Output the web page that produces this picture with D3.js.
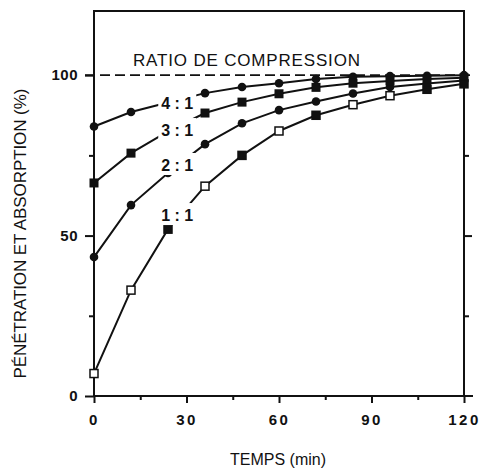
<!DOCTYPE html>
<html>
<head>
<meta charset="utf-8">
<script src="https://cdn.jsdelivr.net/npm/d3@7"></script>
<style>
  body { margin: 0; background: #fff; }
  text { font-family: "Liberation Sans", Arial, sans-serif; fill: #111; }
</style>
</head>
<body>
<svg id="chart"></svg>
<script>
// time points (min)
const times = [0, 12, 24, 36, 48, 60, 72, 84, 96, 108, 120];

// penetration + absorption (%) per compression ratio
const ratio41 = [84, 88.5, 91.5, 94.4, 96.3, 97.5, 98.8, 99.5, 99.7, 99.8, 100];
const ratio31 = [66.4, 75.7, 82.5, 88.2, 91.6, 94.2, 96.2, 97.5, 98.2, 98.8, 99.2];
const ratio21 = [43.3, 59.5, 69.5, 78.5, 85, 89.1, 91.8, 94.3, 96.3, 97.4, 98.3];
const ratio11 = [7, 33, 52, 65.4, 75, 82.6, 87.5, 90.8, 93.6, 95.6, 97.3];
const open11 = [true, true, false, true, false, true, false, true, true, false, false];

const seriesNames = ["4 : 1", "3 : 1", "2 : 1", "1 : 1"];
// label anchor points (time, %)
const labelAt = [[27, 91.3], [27, 82.9], [27, 72], [27, 56.4]];

const xMajor = [0, 30, 60, 90, 120];
const xMinor = [15, 45, 75, 105];
const yMajor = [0, 50, 100];
const yMinor = [25, 75];

var size = { width: 480, height: 469 };
var svg = d3.select("#chart")
    .attr("width", size.width)
    .attr("height", size.height);

var x = d3.scaleLinear().domain([0, 120]).range([94, 464]);
var y = d3.scaleLinear().domain([0, 120]).range([396, 11]);

// frame
svg.append("rect")
    .attr("x", x(0)).attr("y", y(120))
    .attr("width", x(120) - x(0)).attr("height", y(0) - y(120))
    .attr("fill", "none").attr("stroke", "#111").attr("stroke-width", 2);

// bottom axis
var xAxis = svg.append("g")
    .attr("transform", `translate(0,${y(0)})`)
    .call(d3.axisBottom(x).tickValues(xMajor).tickSize(7).tickFormat(d3.format("d")).tickPadding(11));
xAxis.select(".domain").remove();
xAxis.selectAll("line").attr("stroke", "#111").attr("stroke-width", 2);
xAxis.selectAll("text")
    .attr("font-size", 15).attr("font-weight", "bold")
    .attr("letter-spacing", 2.5).attr("fill", "#111");
svg.append("g")
    .attr("transform", `translate(0,${y(0)})`)
    .call(d3.axisBottom(x).tickValues(xMinor).tickSize(4).tickFormat(""))
    .call(g => g.select(".domain").remove())
    .selectAll("line").attr("stroke", "#111").attr("stroke-width", 2);

// left axis
var yAxis = svg.append("g")
    .attr("transform", `translate(${x(0)},0)`)
    .call(d3.axisLeft(y).tickValues(yMajor).tickSize(9).tickPadding(7).tickFormat(d3.format("d")));
yAxis.select(".domain").remove();
yAxis.selectAll("line").attr("stroke", "#111").attr("stroke-width", 2);
yAxis.selectAll("text")
    .attr("font-size", 15).attr("font-weight", "bold")
    .attr("letter-spacing", 0.5).attr("fill", "#111");
svg.append("g")
    .attr("transform", `translate(${x(0)},0)`)
    .call(d3.axisLeft(y).tickValues(yMinor).tickSize(5).tickFormat(""))
    .call(g => g.select(".domain").remove())
    .selectAll("line").attr("stroke", "#111").attr("stroke-width", 2);

// right axis ticks
svg.append("g")
    .attr("transform", `translate(${x(120)},0)`)
    .call(d3.axisRight(y).tickValues([50]).tickSize(8).tickFormat(""))
    .call(g => g.select(".domain").remove())
    .selectAll("line").attr("stroke", "#111").attr("stroke-width", 2);
svg.append("g")
    .attr("transform", `translate(${x(120)},0)`)
    .call(d3.axisRight(y).tickValues(yMinor).tickSize(5).tickFormat(""))
    .call(g => g.select(".domain").remove())
    .selectAll("line").attr("stroke", "#111").attr("stroke-width", 2);
svg.append("line")
    .attr("x1", x(120)).attr("x2", x(120) + 9)
    .attr("y1", y(0)).attr("y2", y(0))
    .attr("stroke", "#111").attr("stroke-width", 2);

// 100% dashed reference
svg.append("line")
    .attr("x1", x(0) - 9).attr("x2", x(120) + 10)
    .attr("y1", y(100)).attr("y2", y(100))
    .attr("stroke", "#111").attr("stroke-width", 1.6)
    .attr("stroke-dasharray", "10,5");

// title in plot
svg.append("text")
    .attr("x", 133).attr("y", 66)
    .attr("font-size", 17)
    .attr("textLength", 227)
    .text("RATIO DE COMPRESSION");

// axis titles
svg.append("text")
    .attr("transform", `translate(26,${y(50) - 2}) rotate(-90)`)
    .attr("text-anchor", "middle")
    .attr("font-size", 17)
    .attr("textLength", 290)
    .text("PÉNÉTRATION ET ABSORPTION (%)");
svg.append("text")
    .attr("x", 278).attr("y", 465)
    .attr("text-anchor", "middle")
    .attr("font-size", 16)
    .text("TEMPS (min)");

// series
var allSeries = [ratio41, ratio31, ratio21, ratio11];
var line = d3.line().x((d, i) => x(times[i])).y(d => y(d));

svg.append("g").selectAll("path")
    .data(allSeries)
    .enter()
    .append("path")
    .attr("d", d => line(d))
    .attr("fill", "none")
    .attr("stroke", "#111")
    .attr("stroke-width", 2);

// 4:1 and 2:1 circles
[ratio41, ratio21].forEach(s => {
    svg.append("g").selectAll("circle")
        .data(s)
        .enter()
        .append("circle")
        .attr("cx", (d, i) => x(times[i]))
        .attr("cy", d => y(d))
        .attr("r", 4.3)
        .attr("fill", "#111");
});

// 3:1 filled squares
svg.append("g").selectAll("rect")
    .data(ratio31)
    .enter()
    .append("rect")
    .attr("x", (d, i) => x(times[i]) - 4.5)
    .attr("y", d => y(d) - 4.5)
    .attr("width", 9).attr("height", 9)
    .attr("fill", "#111");

// 1:1 squares (mostly open)
svg.append("g").selectAll("rect")
    .data(ratio11)
    .enter()
    .append("rect")
    .attr("x", (d, i) => x(times[i]) - 4)
    .attr("y", d => y(d) - 4)
    .attr("width", 8).attr("height", 8)
    .attr("fill", (d, i) => open11[i] ? "#fff" : "#111")
    .attr("stroke", "#111")
    .attr("stroke-width", 1.5);

// ratio labels with white knockout
var labels = svg.append("g").selectAll("g")
    .data(seriesNames)
    .enter()
    .append("g")
    .attr("transform", (d, i) => `translate(${x(labelAt[i][0])},${y(labelAt[i][1])})`);
labels.append("rect")
    .attr("x", -19).attr("y", -12)
    .attr("width", 38).attr("height", 22)
    .attr("fill", "#fff");
labels.append("text")
    .attr("text-anchor", "middle")
    .attr("dy", "0.36em")
    .attr("font-size", 16)
    .attr("font-weight", "bold")
    .text(d => d);
</script>
</body>
</html>
